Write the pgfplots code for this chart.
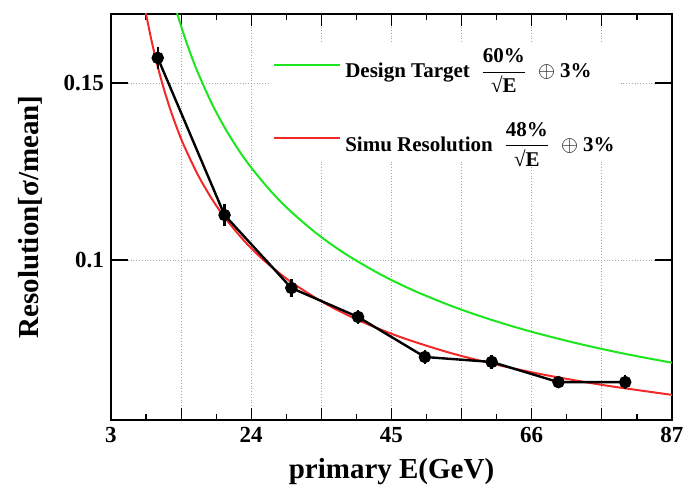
\documentclass[border=0pt]{standalone}
\usepackage{fontspec}
\setmainfont{Liberation Serif}
\usepackage{amsmath}
\usepackage{pgfplots}
\pgfplotsset{compat=1.18}
\definecolor{rgreen}{RGB}{30,230,30}
\definecolor{rred}{RGB}{245,40,40}
\begin{document}
\begin{tikzpicture}
\useasboundingbox (-55.5pt,-36.5pt) rectangle (289.5pt,210pt);
\begin{axis}[
 at={(0,0)}, anchor=south west, scale only axis, width=280.5pt, height=203pt,
 xmin=3, xmax=87, ymin=0.0548, ymax=0.1695,
 axis line style={line width=1.2pt},
 tick align=inside, tick pos=both,
 xtick={3,13.5,24,34.5,45,55.5,66,76.5,87}, xticklabels={3,,24,,45,,66,,87},
 minor x tick num=1,
 ytick=\empty, minor ytick={0.075,0.125},
 extra y ticks={0.1,0.15}, extra y tick labels={0.1,0.15},
 extra y tick style={major tick length=8.5pt, grid=major},
 xmajorgrids,
 major grid style={densely dotted, gray!70, line width=0.5pt},
 major tick length=6pt, minor tick length=3pt,
 every tick/.style={black, line width=0.6pt},
 /pgf/number format/assume math mode=true,
 tick label style={font=\bfseries\fontsize{11.5}{13}\selectfont},
 label style={font=\bfseries\fontsize{14.5}{16}\selectfont},
 xlabel={primary E(GeV)},
 ylabel={Resolution[σ/mean]},
 xlabel style={at={(axis description cs:0.5,-0.143)}, anchor=base},
 ylabel style={at={(axis description cs:-0.144,0.5)}, anchor=center},
 legend style={at={(axis description cs:0.285,0.93)}, anchor=north west, draw=none, fill=white,
   font=\bfseries\fontsize{10.5}{12}\selectfont, row sep=17pt, inner sep=1pt},
 legend cell align=left,
 legend image code/.code={\draw[#1] (0pt,0pt) -- (33pt,0pt);},
 /tikz/every even column/.style={column sep=7pt},
]
\addplot[rgreen, line width=1pt, smooth] coordinates {
(12.5,0.17234) (13,0.16909) (14,0.16314) (15,0.15780) (16,0.15297) (18,0.14457)
(20,0.13748) (22,0.13139) (24,0.12610) (27,0.11930) (30,0.11358) (34,0.10718)
(38,0.10185) (43,0.09629) (48,0.09165) (54,0.08699) (60,0.08307) (66,0.07972)
(73,0.07636) (80,0.07348) (87,0.07098)};
\addlegendentry{Design Target\enspace$\dfrac{\text{60\%}}{\text{√E}}\;\oplus\text{3\%}$}
\addplot[rred, line width=1pt, smooth] coordinates {
(7.5,0.17738) (8,0.17197) (9,0.16256) (10,0.15461) (11,0.14780) (12,0.14186)
(13,0.13664) (14,0.13200) (16,0.12410) (18,0.11758) (20,0.11209) (23,0.10529)
(26,0.09974) (30,0.09373) (35,0.08778) (40,0.08304) (46,0.07846) (53,0.07419)
(60,0.07075) (68,0.06753) (77,0.06458) (87,0.06190)};
\addlegendentry{Simu Resolution\enspace$\dfrac{\text{48\%}}{\text{√E}}\;\oplus\text{3\%}$}
\addplot[black, line width=1.2pt, mark=*, mark size=2.5pt, forget plot,
  error bars/.cd, y dir=both, y explicit, error bar style={line width=1.2pt}, error mark=none]
  table[x=x, y=y, y error=e] {
x y e
10 0.1571 0.0030
20 0.1127 0.0030
30 0.0921 0.0025
40 0.0839 0.0020
50 0.0726 0.0020
60 0.0712 0.0020
70 0.0655 0.0015
80 0.0655 0.0020
};
\end{axis}
\end{tikzpicture}
\end{document}
